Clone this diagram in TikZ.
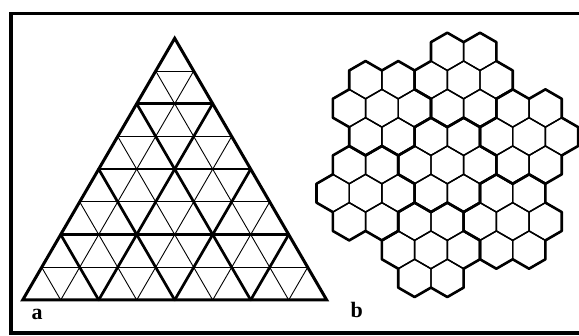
\documentclass[tikz,border=0pt]{standalone}
\usepackage{fontspec}
\setmainfont{Liberation Serif}
\begin{document}
\begin{tikzpicture}[x=1pt,y=-1pt,
  thinline/.style={line width=0.9pt},
  thickline/.style={line width=2.7pt, line cap=round},
  outline/.style={line width=3pt, line join=miter},
  hexthin/.style={line width=1.4pt, line join=round},
  hexthick/.style={line width=2.6pt, line join=round, line cap=round},
  frameline/.style={line width=3.4pt, line join=miter},
  lab/.style={font=\fontsize{22}{24}\selectfont\bfseries, inner sep=0pt, anchor=base west}]
\path[use as bounding box, clip] (0,0) rectangle (579,336);
% frame (right side lies outside the picture)
\draw[frameline] (580,13.3) -- (10.8,13.3) -- (10.8,333) -- (580,333);
% triangle grid
\foreach \i in {1,3,5,7} {
  \draw[thinline] ({22.7+19*\i},{300-32.7125*\i}) -- ({22.7+38*(8-\i)+19*\i},{300-32.7125*\i});
  \draw[thinline] ({22.7+38*\i},300) -- ({22.7+38*\i+19*(8-\i)},{300-32.7125*(8-\i)});
  \draw[thinline] ({22.7+38*\i},300) -- ({22.7+19*\i},{300-32.7125*\i});
}
\foreach \i in {2,4,6} {
  \draw[thickline] ({22.7+19*\i},{300-32.7125*\i}) -- ({22.7+38*(8-\i)+19*\i},{300-32.7125*\i});
  \draw[thickline] ({22.7+38*\i},300) -- ({22.7+38*\i+19*(8-\i)},{300-32.7125*(8-\i)});
  \draw[thickline] ({22.7+38*\i},300) -- ({22.7+19*\i},{300-32.7125*\i});
}
\draw[outline] (22.7,300) -- (326.7,300) -- (174.7,38.3) -- cycle;
% hexagons: 7 clusters of 7
\foreach \cx/\cy in {0/4,5/3,4/6,-1/7,-5/5,-4/2,1/1} {
  \foreach \ox/\oy in {0/0,2/0,-2/0,1/1,-1/1,1/-1,-1/-1} {
    \draw[hexthin] ({447.3+16.35*((\cx)+(\ox))},{51.6+28.32*((\cy)+(\oy))})
      +(90:18.88) -- +(30:18.88) -- +(-30:18.88) -- +(-90:18.88) -- +(-150:18.88) -- +(150:18.88) -- cycle;
  }
}
\foreach \cx/\cy in {0/4,5/3,4/6,-1/7,-5/5,-4/2,1/1} {
  \draw[hexthick] ({447.3+16.35*\cx+32.7*cos(0)+18.88*cos(-90)},{51.6+28.32*\cy+32.7*sin(0)+18.88*sin(-90)})
    \foreach \t in {0,60,...,300} {
      -- ({447.3+16.35*\cx+32.7*cos(\t)+18.88*cos(\t-30)},{51.6+28.32*\cy+32.7*sin(\t)+18.88*sin(\t-30)})
      -- ({447.3+16.35*\cx+32.7*cos(\t)+18.88*cos(\t+30)},{51.6+28.32*\cy+32.7*sin(\t)+18.88*sin(\t+30)})
      -- ({447.3+16.35*\cx+32.7*cos(\t+60)+18.88*cos(\t-30)},{51.6+28.32*\cy+32.7*sin(\t+60)+18.88*sin(\t-30)})
    } -- cycle;
}
\node[lab] (la) at (31.5,319.5) {a};
\node[lab] (lb) at (350.5,318) {b};
\end{tikzpicture}
\end{document}
